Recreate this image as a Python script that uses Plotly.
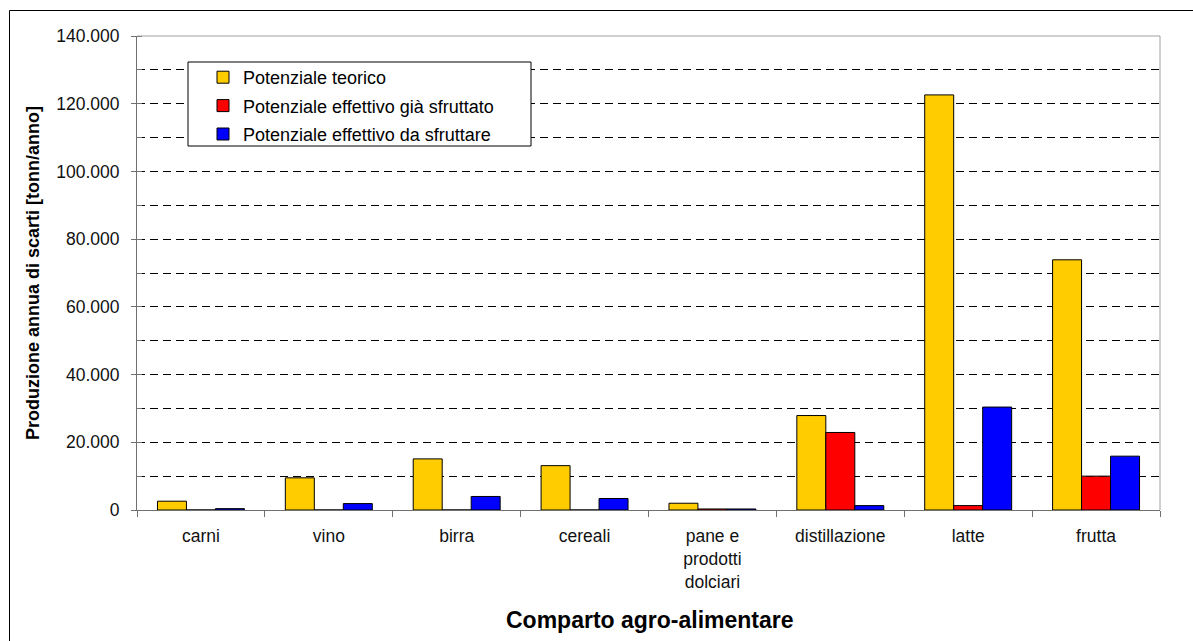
import plotly.graph_objects as go

categories = ["carni", "vino", "birra", "cereali", "pane e<br>prodotti<br>dolciari",
              "distillazione", "latte", "frutta"]
teorico = [2600, 9500, 15100, 13100, 2000, 27900, 122600, 73900]
gia_sfruttato = [0, 0, 0, 0, 300, 22900, 1300, 10000]
da_sfruttare = [400, 1900, 4000, 3400, 300, 1300, 30400, 15900]

series_names = ["Potenziale teorico", "Potenziale effettivo già sfruttato",
                "Potenziale effettivo da sfruttare"]
colors = ["#FFCC00", "#FF0000", "#0000FF"]

W, H = 1193, 641
L, R, T, B = 137, 33, 36, 131
PW, PH = W - L - R, H - T - B


def px(x):
    return (x - L) / PW


def py(y):
    return (H - B - y) / PH


FONT = "Liberation Sans, Arial, sans-serif"

fig = go.Figure()
for i, (name, vals) in enumerate(zip(series_names, [teorico, gia_sfruttato, da_sfruttare])):
    fig.add_trace(go.Bar(
        x=categories, y=vals, name=name, legendgroup=f"g{i}",
        marker=dict(color=colors[i], line=dict(color="black", width=1)),
    ))

fig.update_layout(
    width=W, height=H,
    margin=dict(l=L, r=R, t=T, b=B, autoexpand=False),
    paper_bgcolor="white", plot_bgcolor="white",
    separators=",.",
    barmode="group", bargap=0.32, bargroupgap=0,
    font=dict(family=FONT, size=17.5, color="black"),
    showlegend=True,
    legend=dict(
        x=px(203), y=py(59), xanchor="left", yanchor="top",
        bgcolor="rgba(0,0,0,0)", borderwidth=0,
        font=dict(family=FONT, size=18, color="black"),
        tracegroupgap=2, itemclick=False,
    ),
    xaxis=dict(
        type="category", showline=True, linecolor="#707070", linewidth=1,
        ticks="outside", tickson="boundaries", ticklen=6, tickcolor="#707070",
        showgrid=False, ticklabelstandoff=10,
        tickfont=dict(family=FONT, size=17.5, color="#111111"),
    ),
    yaxis=dict(
        range=[0, 140000], dtick=20000, tick0=0, tickformat=",d",
        showline=True, linecolor="#707070", linewidth=1,
        ticks="outside", ticklen=5, tickcolor="#707070",
        showgrid=True, gridcolor="black", gridwidth=1, griddash="8px,5px",
        zeroline=False, ticklabelstandoff=8,
        tickfont=dict(family=FONT, size=17.5, color="#111111"),
        minor=dict(dtick=10000, ticks="inside", ticklen=5, tickcolor="#707070",
                   showgrid=True, gridcolor="black", gridwidth=1, griddash="8px,5px"),
    ),
    shapes=[
        # plot area top / right border
        dict(type="line", xref="paper", yref="paper", x0=0, x1=1, y0=1, y1=1,
             line=dict(color="#a0a0a0", width=1), layer="above"),
        dict(type="line", xref="paper", yref="paper", x0=1, x1=1, y0=0, y1=1,
             line=dict(color="#a0a0a0", width=1), layer="above"),
        # legend box
        dict(type="rect", xref="paper", yref="paper",
             x0=px(188), x1=px(531), y0=py(146), y1=py(62),
             fillcolor="white", line=dict(color="black", width=1), layer="above"),
        # outer chart border
        dict(type="rect", xref="paper", yref="paper",
             x0=px(9.5), x1=px(1210), y0=py(660), y1=py(10.5),
             fillcolor="rgba(0,0,0,0)", line=dict(color="black", width=1), layer="above"),
    ],
    annotations=[
        dict(text="<b>Comparto agro-alimentare</b>", xref="paper", yref="paper",
             x=px(650), y=py(620), xanchor="center", yanchor="middle", showarrow=False,
             font=dict(family=FONT, size=23, color="black")),
        dict(text="<b>Produzione annua di scarti [tonn/anno]</b>", xref="paper", yref="paper",
             x=px(33), y=py(273), xanchor="center", yanchor="middle", showarrow=False,
             textangle=-90, font=dict(family=FONT, size=18, color="black")),
    ],
)

fig.write_html("out.html", config={"displayModeBar": False},
               post_script="document.body.style.margin='0';")
